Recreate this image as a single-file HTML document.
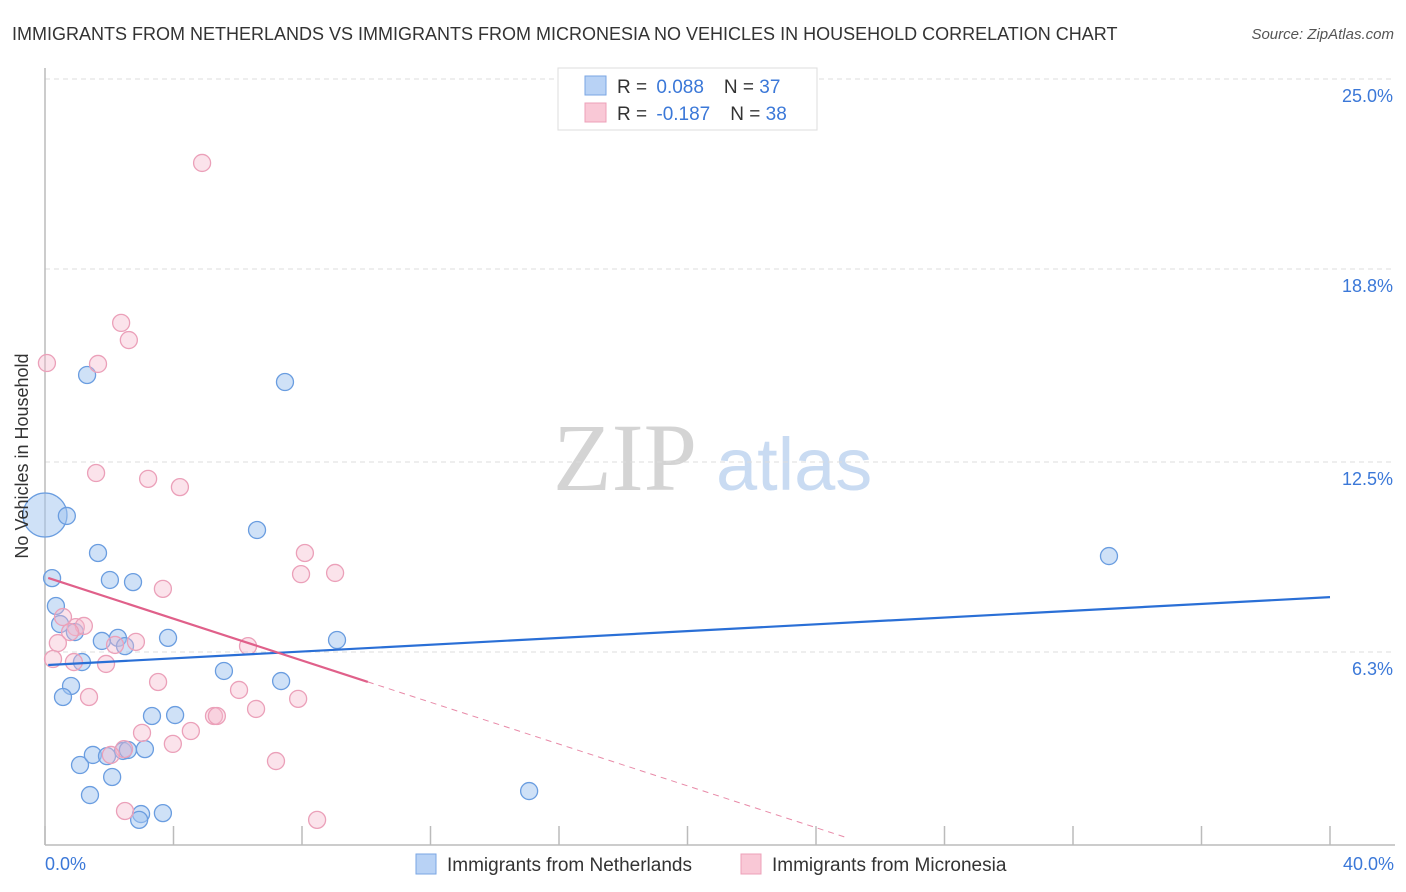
<!DOCTYPE html>
<html><head><meta charset="utf-8"><style>
body{margin:0;background:#fff;font-family:"Liberation Sans",sans-serif;}
svg{display:block}
</style></head><body>
<svg id="chart" width="1406" height="892">
<text x="12" y="40" font-size="18" fill="#333">IMMIGRANTS FROM NETHERLANDS VS IMMIGRANTS FROM MICRONESIA NO VEHICLES IN HOUSEHOLD CORRELATION CHART</text>
<text x="1394" y="39" font-size="15" fill="#555" font-style="italic" text-anchor="end">Source: ZipAtlas.com</text>
<g>
<text x="553" y="490" font-size="96" font-family="Liberation Serif,serif" fill="#d4d4d4">ZIP</text>
<text x="716" y="490" font-size="74" fill="#c9dbf2">atlas</text>
</g>
<g id="grid"></g>
<g id="axes"></g>
<g id="pts"></g>
<g id="trend"></g>
<text x="28" y="456" font-size="18" fill="#333" text-anchor="middle" transform="rotate(-90 28 456)">No Vehicles in Household</text>
<text x="45" y="870" font-size="18" fill="#3b78d8">0.0%</text>
<text x="1394" y="870" font-size="18" fill="#3b78d8" text-anchor="end">40.0%</text>
<g>
<rect x="558" y="68" width="259" height="62" fill="#fff" stroke="#ddd"/>
<rect x="585" y="76" width="21" height="19" fill="#b8d2f5" stroke="#7aa6e3"/>
<rect x="585" y="103" width="21" height="19" fill="#f9c8d6" stroke="#eda0b8"/>
<text x="617" y="93" font-size="19" fill="#333">R = <tspan fill="#3b78d8" dx="4">0.088</tspan><tspan dx="20">N = </tspan><tspan fill="#3b78d8">37</tspan></text>
<text x="617" y="120" font-size="19" fill="#333">R = <tspan fill="#3b78d8" dx="4">-0.187</tspan><tspan dx="20">N = </tspan><tspan fill="#3b78d8">38</tspan></text>
</g>
<g>
<rect x="416" y="854" width="20" height="20" fill="#b8d2f5" stroke="#7aa6e3"/>
<text x="447" y="871" font-size="19" fill="#333">Immigrants from Netherlands</text>
<rect x="741" y="854" width="20" height="20" fill="#f9c8d6" stroke="#eda0b8"/>
<text x="772" y="871" font-size="19" fill="#333">Immigrants from Micronesia</text>
</g>
</svg>
<script>
const yTicks=[25.0,18.8,12.5,6.3];
const yTickLabels=["25.0%","18.8%","12.5%","6.3%"];
const xTicks=[0,4,8,12,16,20,24,28,32,36,40];
const blueX=[0,0.68,1.31,7.47,1.65,6.60,33.12,0.22,2.02,2.74,0.34,0.47,0.93,2.27,2.49,1.77,3.83,9.09,1.15,5.57,7.35,0.81,0.56,3.33,4.05,1.09,1.49,1.93,2.43,2.58,3.11,2.09,1.40,2.99,2.93,3.67,15.07];
const blueY=[10.77,10.74,15.34,15.11,9.53,10.28,9.43,8.71,8.65,8.58,7.80,7.21,6.95,6.76,6.49,6.66,6.76,6.69,5.97,5.68,5.35,5.19,4.83,4.21,4.24,2.61,2.94,2.90,3.07,3.10,3.13,2.22,1.63,1.01,0.82,1.04,1.76];
const pinkX=[4.89,0.06,2.37,2.61,1.65,1.59,3.21,4.20,8.09,7.97,9.03,3.67,0.56,0.96,1.21,0.78,0.40,2.83,2.18,6.32,0.25,0.90,1.90,3.52,6.04,1.37,7.88,6.57,5.26,5.35,4.54,3.02,3.98,2.46,2.05,7.19,2.49,8.47];
const pinkY=[22.26,15.73,17.04,16.48,15.70,12.14,11.95,11.68,9.53,8.84,8.88,8.36,7.44,7.11,7.15,6.95,6.59,6.63,6.53,6.49,6.07,5.97,5.91,5.32,5.06,4.83,4.77,4.44,4.21,4.21,3.72,3.66,3.30,3.13,2.94,2.74,1.11,0.82];
const blueTrend=[5.87,8.09];
const pinkTrend=[8.75,-0.341];
const NS="http://www.w3.org/2000/svg";
const xs=v=>45+v*32.125, ys=v=>845-v*30.64;
function mk(t,a,p){const e=document.createElementNS(NS,t);for(const k in a)e.setAttribute(k,a[k]);p.appendChild(e);return e;}
const grid=document.getElementById('grid'),axes=document.getElementById('axes'),pts=document.getElementById('pts'),tr=document.getElementById('trend');
yTicks.forEach((v,i)=>{
 const l=mk('line',{x1:45,x2:1395,y1:ys(v),y2:ys(v),stroke:'#ddd','stroke-dasharray':'5,4'},grid);
 
 
 const t=mk('text',{x:1393,y:ys(v)+23,'font-size':18,fill:'#3b78d8','text-anchor':'end'},grid);
 t.textContent=yTickLabels[i];
 
 
});
const ya=mk('line',{x1:45,x2:45,y1:68,y2:845,stroke:'#bbb','stroke-width':1.5},axes);


const xa=mk('line',{x1:45,x2:1395,y1:845,y2:845,stroke:'#bbb','stroke-width':1.5},axes);


xTicks.forEach(v=>{
 const t=mk('line',{x1:xs(v),x2:xs(v),y1:826,y2:845,stroke:'#bbb','stroke-width':1.5},axes);
 
 
});
blueX.forEach((x,i)=>{
 const c=mk('circle',{cx:xs(x),cy:ys(blueY[i]),r:i===0?22:8.5,fill:'rgba(160,196,240,0.5)',stroke:'#6a9de0','stroke-width':1.3},pts);
 
 
});
pinkX.forEach((x,i)=>{
 const c=mk('circle',{cx:xs(x),cy:ys(pinkY[i]),r:8.5,fill:'rgba(246,185,205,0.4)',stroke:'#eba0b9','stroke-width':1.3},pts);
 
 
});
const bl=mk('line',{x1:xs(0.1),y1:ys(blueTrend[0]+(blueTrend[1]-blueTrend[0])*0.1/40),x2:xs(40),y2:ys(blueTrend[1]),stroke:'#2a6fd6','stroke-width':2.2},tr);


const pf=x=>pinkTrend[0]+pinkTrend[1]*x;
const ps=mk('line',{x1:xs(0.1),y1:ys(pf(0.1)),x2:xs(10.05),y2:ys(pf(10.05)),stroke:'#e0608a','stroke-width':2.2},tr);


const pd=mk('line',{x1:xs(10.05),y1:ys(pf(10.05)),x2:xs(25),y2:ys(pf(25)),stroke:'#e88aa8','stroke-width':1,'stroke-dasharray':'6,5'},tr);


</script>
</body></html>
